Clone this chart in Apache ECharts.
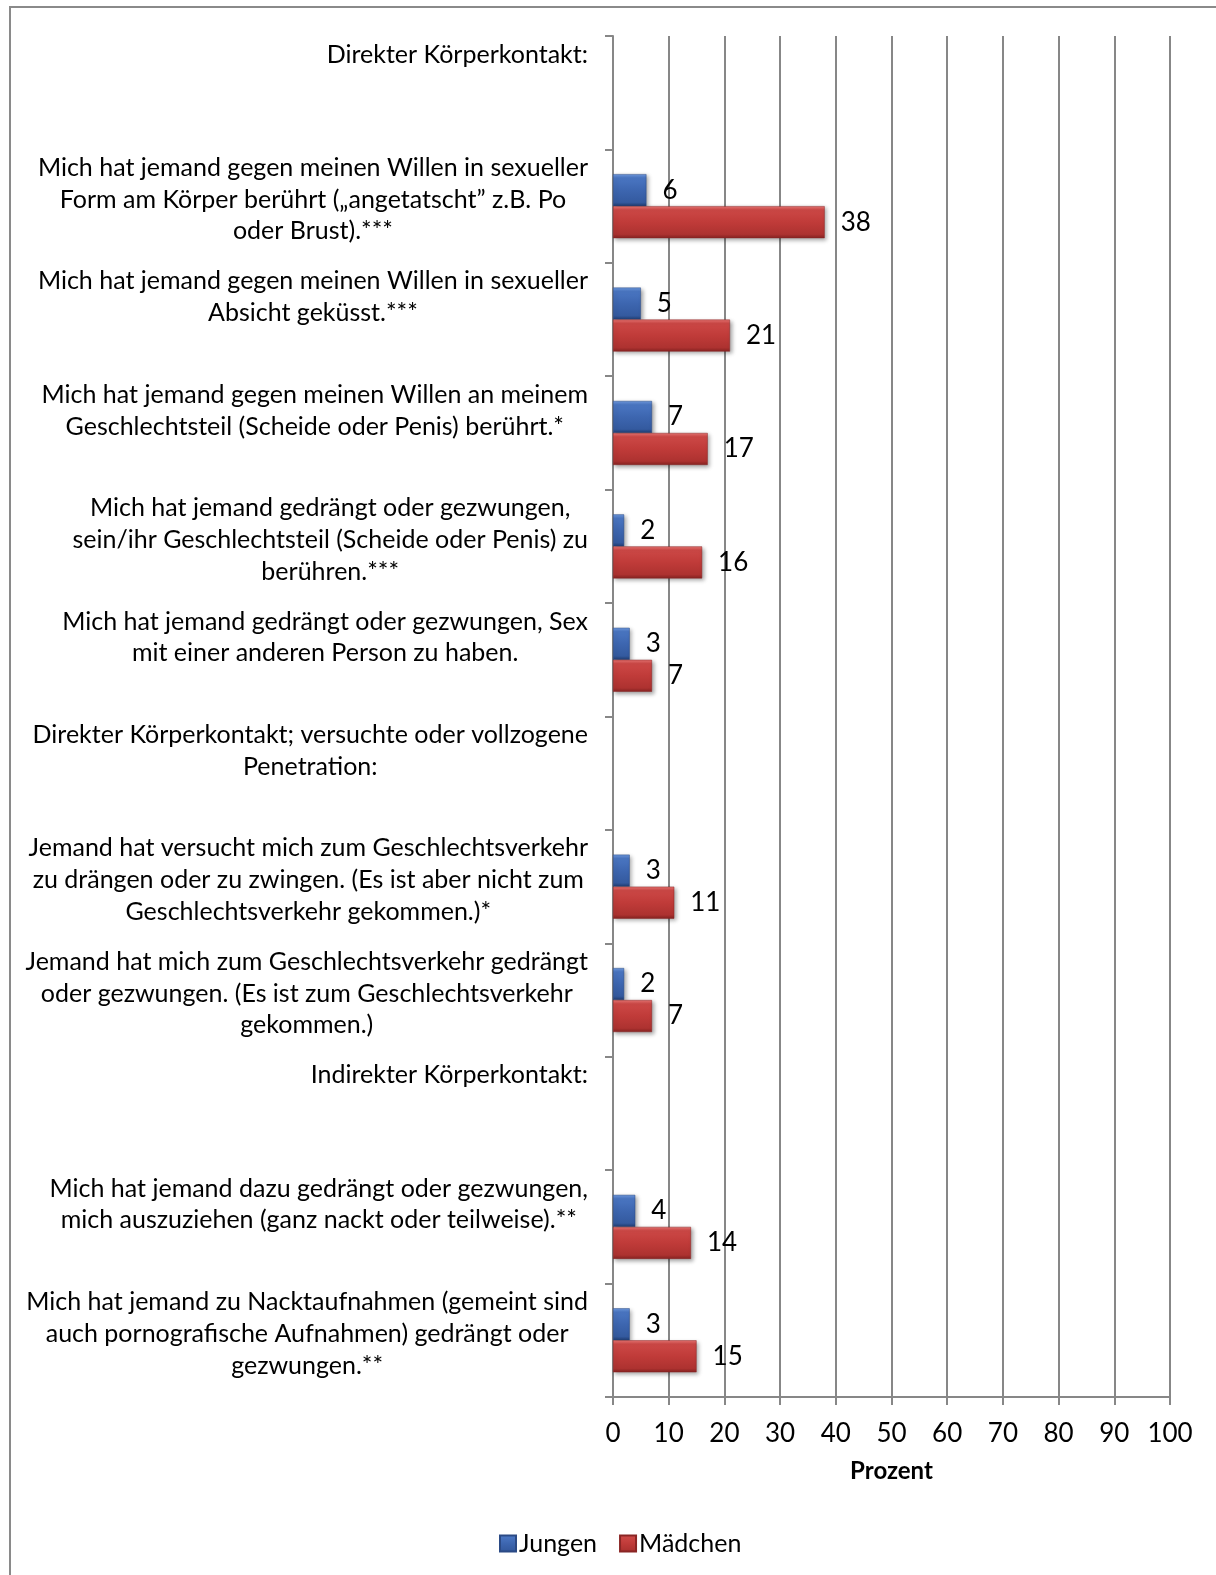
<!DOCTYPE html>
<html>
<head>
<meta charset="utf-8">
<script src="https://cdn.jsdelivr.net/npm/echarts@6/dist/echarts.min.js"></script>
<style>
html,body{margin:0;padding:0;background:#fff;}
#chart{width:1216px;height:1575px;}
</style>
</head>
<body>
<div id="chart"></div>
<script>
// ---- data ----
const categories = [
  "Direkter Körperkontakt:",
  "Mich hat jemand gegen meinen Willen in sexueller\nForm am Körper berührt („angetatscht” z.B. Po\noder Brust).***",
  "Mich hat jemand gegen meinen Willen in sexueller\nAbsicht geküsst.***",
  "Mich hat jemand gegen meinen Willen an meinem\nGeschlechtsteil (Scheide oder Penis) berührt.*",
  "Mich hat jemand gedrängt oder gezwungen,\nsein/ihr Geschlechtsteil (Scheide oder Penis) zu\nberühren.***",
  "Mich hat jemand gedrängt oder gezwungen, Sex\nmit einer anderen Person zu haben.",
  "Direkter Körperkontakt; versuchte oder vollzogene\nPenetration:",
  "Jemand hat versucht mich zum Geschlechtsverkehr\nzu drängen oder zu zwingen. (Es ist aber nicht zum\nGeschlechtsverkehr gekommen.)*",
  "Jemand hat mich zum Geschlechtsverkehr gedrängt\noder gezwungen. (Es ist zum Geschlechtsverkehr\ngekommen.)",
  "Indirekter Körperkontakt:",
  "Mich hat jemand dazu gedrängt oder gezwungen,\nmich auszuziehen (ganz nackt oder teilweise).**",
  "Mich hat jemand zu Nacktaufnahmen (gemeint sind\nauch pornografische Aufnahmen) gedrängt oder\ngezwungen.**"
];
const seriesNames = ["Jungen", "Mädchen"];
const jungen  = [null, 6, 5, 7, 2, 3, null, 3, 2, null, 4, 3];
const maedchen = [null, 38, 21, 17, 16, 7, null, 11, 7, null, 14, 15];
const xTicks = [0, 10, 20, 30, 40, 50, 60, 70, 80, 90, 100];
const xAxisName = "Prozent";

// ---- styling ----
const FONT = "Lato";
const grayLine = "#878787";
const blueGrad = new echarts.graphic.LinearGradient(0, 0, 0, 1, [
  {offset: 0, color: '#6f9ae0'},
  {offset: 0.12, color: '#4a76c2'},
  {offset: 0.5, color: '#3d66b0'},
  {offset: 0.88, color: '#345a9f'},
  {offset: 1, color: '#223f75'}
]);
const redGrad = new echarts.graphic.LinearGradient(0, 0, 0, 1, [
  {offset: 0, color: '#ea7573'},
  {offset: 0.12, color: '#cc4846'},
  {offset: 0.5, color: '#c03b39'},
  {offset: 0.88, color: '#ad3230'},
  {offset: 1, color: '#862322'}
]);

function fmtLabel(v) {
  const lines = v.split("\n");
  while (lines.length < 3) lines.push(" ");
  return lines.map(l => "{c|" + l + "}").join("\n");
}

const chart = echarts.init(document.getElementById('chart'), null, {renderer: 'canvas'});
chart.setOption({
  animation: false,
  backgroundColor: '#ffffff',
  textStyle: {fontFamily: FONT},
  graphic: [{
    type: 'rect',
    shape: {x: 10, y: 7, width: 1240, height: 1610},
    style: {fill: 'none', stroke: '#8a8a8a', lineWidth: 2},
    silent: true,
    z: 100
  }],
  grid: {left: 613, right: 46, top: 36, bottom: 178, containLabel: false},
  legend: {
    data: seriesNames,
    left: 494,
    top: 1526,
    itemWidth: 16,
    itemHeight: 16,
    itemGap: 22,
    icon: 'rect',
    textStyle: {fontFamily: FONT, fontSize: 25, color: '#000', padding: [0, 0, 0, -2]}
  },
  xAxis: {
    type: 'value',
    min: 0, max: 100, interval: 10,
    name: xAxisName,
    nameLocation: 'middle',
    nameGap: 62,
    nameTextStyle: {fontFamily: FONT, fontSize: 24, fontWeight: 'bold', color: '#000'},
    axisLine: {show: true, lineStyle: {color: grayLine, width: 2}},
    axisTick: {show: true, length: 8, lineStyle: {color: grayLine, width: 2}},
    axisLabel: {
      fontFamily: FONT, fontSize: 26, color: '#000', margin: 24,
      formatter: v => xTicks.indexOf(v) >= 0 ? String(v) : ''
    },
    splitLine: {show: true, lineStyle: {color: grayLine, width: 2}}
  },
  yAxis: {
    type: 'category',
    inverse: true,
    data: categories,
    axisLine: {show: true, lineStyle: {color: grayLine, width: 2}},
    axisTick: {show: true, length: 8, lineStyle: {color: grayLine, width: 2}},
    axisLabel: {
      interval: 0,
      margin: 25,
      align: 'right',
      verticalAlign: 'middle',
      padding: [0, 0, 13, 0],
      formatter: fmtLabel,
      rich: {
        c: {align: 'center', fontFamily: FONT, fontSize: 25, lineHeight: 31.7, color: '#000'}
      }
    },
    splitLine: {show: false}
  },
  series: [
    {
      name: seriesNames[0],
      type: 'bar',
      data: jungen,
      barWidth: 32,
      barGap: '0%',
      itemStyle: {color: blueGrad, borderColor: '#2b4a85', borderWidth: 0.5,
        shadowColor: 'rgba(0,0,0,0.35)', shadowBlur: 4, shadowOffsetX: 2, shadowOffsetY: 2},
      label: {show: true, position: 'right', distance: 16, fontFamily: FONT, fontSize: 26, color: '#000'}
    },
    {
      name: seriesNames[1],
      type: 'bar',
      data: maedchen,
      barWidth: 32,
      barGap: '0%',
      itemStyle: {color: redGrad, borderColor: '#8a2524', borderWidth: 0.5,
        shadowColor: 'rgba(0,0,0,0.35)', shadowBlur: 4, shadowOffsetX: 2, shadowOffsetY: 2},
      label: {show: true, position: 'right', distance: 16, fontFamily: FONT, fontSize: 26, color: '#000'}
    }
  ]
});
</script>
</body>
</html>
